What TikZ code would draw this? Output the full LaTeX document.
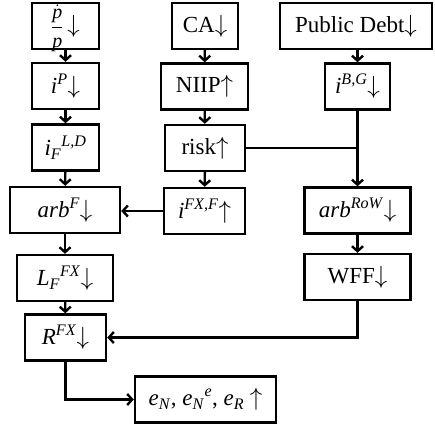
\documentclass[tikz,border=0pt]{standalone}
\usepackage{amsmath}
\usepackage{fontspec}
\setmainfont{Liberation Serif}
\usetikzlibrary{arrows.meta}

\newcommand{\vi}[1]{\textit{#1}}
\newcommand{\dn}{$\downarrow$}
\newcommand{\up}{$\uparrow$}

\tikzset{
  box/.style={draw, line width=2.4pt, minimum height=46pt, inner sep=0pt,
              font=\fontsize{23}{26}\selectfont},
  link/.style={line width=2.4pt, -{Straight Barb[length=5pt,width=11pt]}},
  joint/.style={line width=2.4pt}
}

\begin{document}
\begin{tikzpicture}[x=1pt, y=-1pt]
    \useasboundingbox (0,0) rectangle (435,428);
    % left column
    \node[box, minimum width=67pt, text height=18pt, text depth=4pt] (infl) at ( 65.5, 26.0)
        {{\fontsize{20}{22}\selectfont$\displaystyle\frac{\dot{\vi{p}}}{\vi{p}}$}\,\dn};
    \node[box, minimum width=67pt] (iP)   at ( 65.5, 86.0) {\vi{i}\textsuperscript{\vi{P}}\dn};
    \node[box, minimum width=67pt] (iFLD) at ( 65.5,147.5) {\vi{i}\textsubscript{\vi{F}}\textsuperscript{\vi{L,D}}};
    \node[box, minimum width=110pt] (arbF) at ( 65.0,210.0) {\vi{arb}\textsuperscript{\vi{F}}\dn};
    \node[box, minimum width=96pt] (LFX)  at ( 65.0,278.0) {\vi{L}\textsubscript{\vi{F}}\textsuperscript{\vi{FX}}\dn};
    \node[box, minimum width=81pt] (RFX)  at ( 65.5,337.5) {\vi{R}\textsuperscript{\vi{FX}}\dn};
    \node[box, minimum width=141pt] (exch) at (205.5,399.5) {\vi{e}\textsubscript{\vi{N}}, \vi{e}\textsubscript{\vi{N}}\textsuperscript{\vi{e}}, \vi{e}\textsubscript{\vi{R}} \up};
    % middle column
    \node[box, minimum width=66pt] (CA)   at (205.0, 26.0) {CA\dn};
    \node[box, minimum width=87pt] (NIIP) at (204.5, 86.5) {NIIP\up};
    \node[box, minimum width=80pt] (risk) at (205.0,148.0) {risk\up};
    \node[box, minimum width=81pt] (iFXF) at (204.5,211.0) {\vi{i}\textsuperscript{\vi{FX,F}}\up};
    % right column
    \node[box, minimum width=152pt] (debt) at (356.0, 26.0) {Public Debt\dn};
    \node[box, minimum width=65pt] (iBG)  at (357.5, 86.5) {\vi{i}\textsuperscript{\vi{B,G}}\dn};
    \node[box, minimum width=106pt] (arbR) at (357.5,210.5) {\vi{arb}\textsuperscript{\vi{RoW}}\dn};
    \node[box, minimum width=106pt] (WFF)  at (357.5,277.0) {WFF\dn};
    % links
    \draw[link] (infl) -- (iP);
    \draw[link] (iP) -- (iFLD);
    \draw[link] (iFLD) -- (arbF);
    \draw[link] (arbF) -- (LFX);
    \draw[link] (LFX) -- (RFX);
    \draw[link] (CA) -- (NIIP);
    \draw[link] (NIIP) -- (risk);
    \draw[link] (risk) -- (iFXF);
    \draw[link] (debt.south -| iBG.north) -- (iBG);
    \draw[link] (iBG) -- (arbR);
    \draw[link] (arbR) -- (WFF);
    \draw[joint] (risk.east) -- (risk.east -| iBG.south);
    \draw[link] (iFXF.west) -- (iFXF.west -| arbF.east);
    \draw[link] (WFF.south) |- (RFX.east);
    \draw[link] (RFX.south) |- (exch.west);
\end{tikzpicture}
\end{document}
